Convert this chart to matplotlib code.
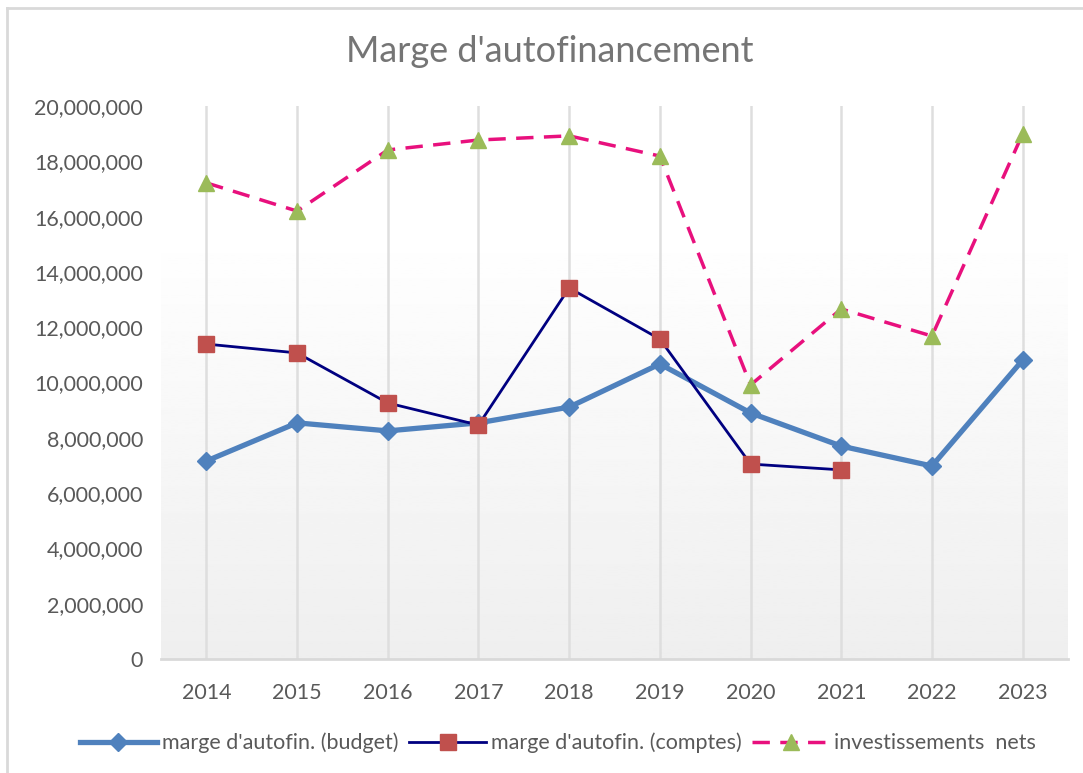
import numpy as np
import matplotlib.pyplot as plt
from matplotlib.ticker import FuncFormatter
from matplotlib.lines import Line2D

plt.rcParams['font.family'] = ['Lato', 'DejaVu Sans']

## data
years = ['2014', '2015', '2016', '2017', '2018', '2019', '2020', '2021', '2022', '2023']
budget = [7.16e6, 8.54e6, 8.25e6, 8.54e6, 9.11e6, 10.67e6, 8.90e6, 7.70e6, 6.98e6, 10.81e6]
comptes = [11.39e6, 11.07e6, 9.26e6, 8.46e6, 13.42e6, 11.57e6, 7.05e6, 6.84e6, np.nan, np.nan]
invest = [17.22e6, 16.20e6, 18.41e6, 18.77e6, 18.92e6, 18.19e6, 9.91e6, 12.66e6, 11.68e6, 18.99e6]

x = np.arange(len(years))

fig = plt.figure(figsize=(10.83, 7.73), dpi=100)
fig.patch.set_facecolor('white')

# thin grey frame (top and left edges visible)
fig.add_artist(Line2D([7/1083, 7/1083], [0, 1-8/773], color='#d9d9d9', lw=2))
fig.add_artist(Line2D([7/1083, 1], [1-8/773, 1-8/773], color='#d9d9d9', lw=2))

ax = fig.add_axes([161/1083, 1-659/773, 907/1083, 553/773])
ax.set_xlim(-0.5, 9.5)
ax.set_ylim(0, 20e6)

# soft grey gradient in the lower part of the plot area
grad = np.linspace(1.0, 0.935, 256).reshape(-1, 1)
ax.imshow(grad, cmap='gray', vmin=0, vmax=1, aspect='auto',
          extent=[-0.5, 9.5, 0, 15.6e6], origin='upper', zorder=0)

for xi in x:
    ax.axvline(xi, color='#dedede', lw=1.8, zorder=1)

ax.plot(x, budget, color='#4f81bd', lw=3.8, marker='D', ms=9,
        mfc='#4f81bd', mec='#4f81bd', zorder=3, label="marge d'autofin. (budget)")
ax.plot(x, comptes, color='#000080', lw=2, marker='s', ms=11,
        mfc='#c0504d', mec='#c0504d', zorder=4, label="marge d'autofin. (comptes)")
ax.plot(x, invest, color='#e8107d', lw=2.5, ls=(0, (5, 3)), marker='^', ms=12,
        mfc='#9bbb59', mec='#9bbb59', zorder=4, label='investissements  nets')

ax.set_xticks(x)
ax.set_xticklabels(years)
ax.set_yticks(np.arange(0, 20e6 + 1, 2e6))
ax.yaxis.set_major_formatter(FuncFormatter(lambda v, p: '{:,.0f}'.format(v)))
ax.tick_params(axis='both', length=0, labelsize=15.5, labelcolor='#595959')
ax.tick_params(axis='y', pad=13)
ax.tick_params(axis='x', pad=17)

for s in ['top', 'right', 'left']:
    ax.spines[s].set_visible(False)
ax.spines['bottom'].set_color('#d9d9d9')
ax.spines['bottom'].set_linewidth(2)

fig.text(0.508, 1-52/773, "Marge d'autofinancement", ha='center', va='center',
         fontsize=26, color='#757575')

fig.legend(loc='center', bbox_to_anchor=(0.515, 1-743/773), ncol=3, frameon=False,
           fontsize=15.5, handlelength=3.6, handletextpad=0.2, columnspacing=0.5,
           labelcolor='#595959')

plt.savefig('out.png', dpi=100, facecolor='white')
